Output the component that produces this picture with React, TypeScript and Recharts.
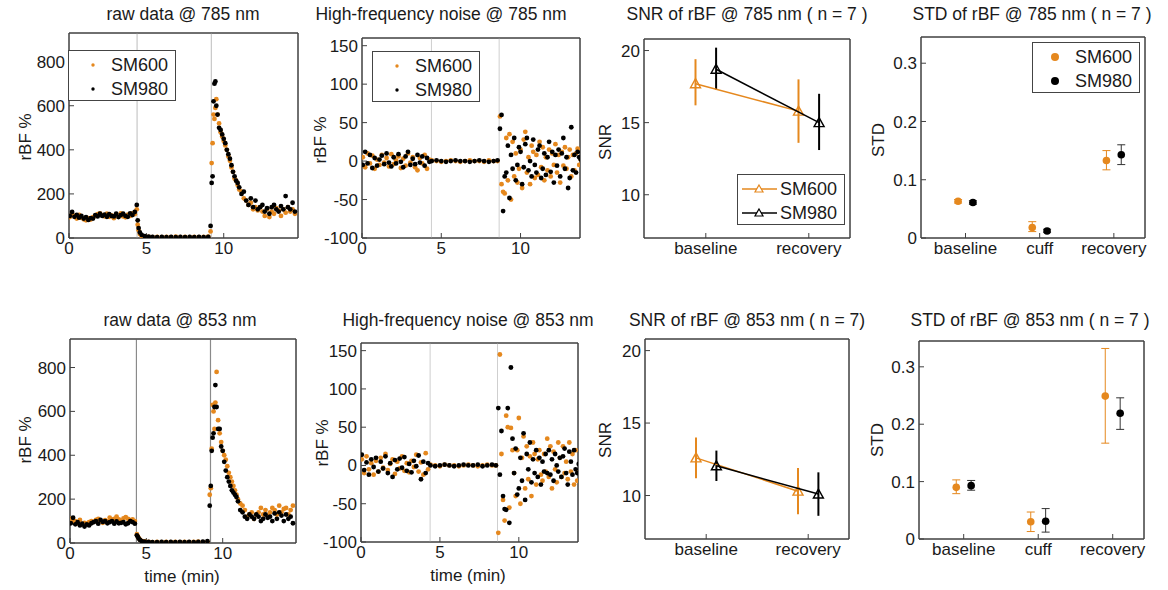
import React from 'react';
import { ScatterChart, Scatter, XAxis, YAxis, ReferenceLine, ReferenceArea, ErrorBar } from 'recharts';

const ORANGE = '#e5881e';
const BLACK = '#000000';
const AXIS = '#404040';
const TEXT = '#1a1a1a';

// ---- raw data (rBF %) ----
const rawT = [
  0.05, 0.2, 0.35, 0.5, 0.65, 0.8, 0.95, 1.1, 1.25, 1.4, 1.55, 1.7, 1.85, 2.0, 2.15, 2.3, 2.45, 2.6, 2.75, 2.9,
  3.05, 3.2, 3.35, 3.5, 3.65, 3.8, 3.95, 4.1, 4.25,
  4.38, 4.44, 4.5, 4.58, 4.7, 4.9, 5.15, 5.4, 5.7, 6.0, 6.3, 6.6, 6.9, 7.2, 7.5, 7.8, 8.1, 8.4, 8.7, 9.0,
  9.15, 9.22, 9.28, 9.34, 9.4, 9.46, 9.52, 9.6,
  9.7, 9.8, 9.9, 10.0, 10.1, 10.2, 10.3, 10.4, 10.5, 10.6, 10.7, 10.8, 10.9, 11.0,
  11.15, 11.3, 11.45, 11.6, 11.75, 11.9, 12.05, 12.2, 12.35, 12.5, 12.65, 12.8, 12.95, 13.1, 13.25, 13.4,
  13.55, 13.7, 13.85, 14.0, 14.15, 14.3, 14.45, 14.6,
];

const raw600_785 = [
  95, 110, 100, 88, 105, 92, 85, 80, 90, 84, 95, 100, 108, 112, 104, 98, 110, 96, 102, 90, 105, 100, 112, 98, 94, 106, 100, 112, 108,
  130, 60, 35, 18, 10, 6, 5, 4, 5, 4, 5, 4, 6, 4, 5, 4, 5, 4, 5, 6,
  30, 340, 430, 560, 540, 590, 630, 560,
  520, 480, 460, 440, 420, 400, 370, 350, 320, 300, 270, 260, 240, 220,
  210, 180, 170, 150, 160, 130, 140, 125, 140, 120, 100, 130, 95, 120, 110, 135, 125, 100, 130, 115, 140, 120, 130, 110,
];
const raw980_785 = [
  100, 118, 96, 105, 92, 100, 88, 95, 82, 90, 88, 104, 98, 110, 100, 106, 96, 108, 100, 98, 110, 95, 104, 110, 100, 96, 112, 104, 118,
  150, 80, 45, 25, 14, 8, 6, 5, 4, 5, 4, 5, 4, 5, 4, 5, 4, 5, 4, 5,
  55, 250, 280, 620, 700, 710, 600, 560,
  500, 490, 470, 450, 430, 400, 380, 360, 330, 300, 280, 260, 250, 230,
  200, 210, 170, 150, 180, 140, 170, 130, 140, 150, 120, 135, 110, 140, 150, 130, 120, 145, 130, 190, 140, 130, 160, 120,
];
const raw600_853 = [
  110, 95, 100, 90, 105, 85, 92, 88, 95, 100, 96, 105, 110, 100, 92, 104, 98, 115, 106, 110, 120, 108, 100, 112, 118, 110, 104, 108, 100,
  40, 30, 22, 15, 10, 7, 5, 4, 5, 4, 5, 4, 5, 4, 5, 4, 5, 6, 4, 5,
  220, 250, 430, 630, 600, 520, 640, 780,
  560, 500, 460, 420, 400, 380, 350, 320, 300, 280, 260, 240, 220, 200,
  180, 170, 150, 120, 130, 140, 110, 130, 140, 160, 130, 150, 125, 140, 160, 150, 130, 170, 140, 155, 160, 130, 150, 170,
];
const raw980_853 = [
  90, 115, 85, 95, 80, 88, 75, 85, 80, 90, 95, 100, 88, 105, 96, 100, 90, 95, 100, 88, 98, 90, 92, 95, 85, 90, 100, 95, 88,
  35, 28, 20, 14, 9, 6, 5, 4, 4, 5, 4, 5, 4, 5, 4, 5, 4, 5, 6, 8,
  170, 260, 420, 480, 500, 620, 720, 620,
  520, 520, 440, 420, 370, 330, 300, 280, 260, 240, 230, 220, 210, 190,
  150, 140, 120, 110, 130, 120, 110, 130, 120, 100, 110, 130, 115, 120, 100, 135, 110, 140, 125, 100, 130, 110, 120, 90,
];

// ---- high-frequency noise (rBF %) ----
const noiseT = [
  0.05, 0.2, 0.35, 0.5, 0.65, 0.8, 0.95, 1.1, 1.25, 1.4, 1.55, 1.7, 1.85, 2.0, 2.15, 2.3, 2.45, 2.6, 2.75, 2.9,
  3.05, 3.2, 3.35, 3.5, 3.65, 3.8, 3.95, 4.1, 4.25,
  4.4, 4.7, 5.0, 5.3, 5.6, 5.9, 6.2, 6.5, 6.8, 7.1, 7.4, 7.7, 8.0, 8.3, 8.55,
  8.7, 8.8, 8.9, 9.0, 9.1, 9.2, 9.3, 9.4, 9.5, 9.6, 9.7, 9.8, 9.9, 10.0, 10.1, 10.2, 10.3, 10.4, 10.5, 10.6,
  10.7, 10.8, 10.9, 11.0, 11.1, 11.2, 11.3, 11.4, 11.5, 11.6, 11.7, 11.8, 11.9, 12.0, 12.1, 12.2, 12.3, 12.4,
  12.5, 12.6, 12.7, 12.8, 12.9, 13.0, 13.1, 13.2, 13.3, 13.4, 13.5, 13.6, 13.7, 13.8,
];

const noise600_785 = [
  5, -8, 10, -3, 7, -10, 2, -5, 8, -2, 4, -7, 9, -4, 1, 6, -9, 3, -6, 10, -2, 5, -8, -12, 4, -3, 8, -10, 2,
  1, 0, -1, 0, 1, 0, -1, 0, 1, 0, 0, -1, 1, 0, 0,
  58, -30, -40, -42, 30, -25, 35, -50, 25, -20, 10, -28, -10, 15, -35, 28, 38, -15, 5, -30,
  20, 12, -22, 8, -18, 25, -8, 18, -25, 5, -12, 15, -20, 10, -5, 22, -15, 8, -28, 12,
  -6, 18, -10, 5, 15, -20, 8, -12, 10, 16, -5, 2,
];
const noise980_785 = [
  -5, 12, -3, 8, -9, 4, -6, 2, 7, -4, 10, -2, -7, 5, -3, 9, -1, -8, 6, 12, -5, 3, -4, 8, -2, 6, -6, 4, -1,
  0, 1, 0, -1, 0, 1, 0, 0, -1, 0, 1, 0, -1, 0, 1,
  42, 60, -65, -20, -15, 20, -48, 8, -10, 30, -25, -5, 18, 12, -30, -8, 22, 30, -12, 0,
  -20, 28, -5, -15, 15, 20, -22, -10, 10, -18, 5, 25, -14, 12, -28, 8, -6, 15, -20, 10,
  30, -10, 5, -35, -22, 44, -12, 8, -15, 12, 5, 2,
];
const noise600_853 = [
  8, -10, 12, -5, 3, -12, 6, -8, 10, -3, 15, -6, 2, 8, -11, 5, -4, 12, -7, 3, -9, 6, -2, 14, -8, 4, -12, 16, -5,
  1, 0, -1, 1, 0, 0, -1, 0, 1, 0, -1, 0, 1, 0, 0,
  -88, 145, 15, -45, -72, 65, 50, -55, 49, 20, -10, -40, 20, 62, -50, 10, 38, -30, 25, -18,
  12, -40, 30, 15, -25, 8, 20, -12, -20, 15, -8, 35, -15, 25, -30, 18, -5, -22, 30, 10,
  -15, 25, -10, 5, -18, 30, -8, 15, -25, 20, -20, -8,
];
const noise980_853 = [
  14, -6, 4, -12, 8, -2, 10, -8, 5, -4, 12, -10, 3, -15, 7, -5, 9, -3, 11, -7, 2, -9, 6, -1, 13, -18, 5, -10, 3,
  0, -1, 0, 1, 0, -1, 0, 1, 0, 0, 1, -1, 0, 1, 0,
  75, -12, 45, -40, -57, -58, 75, -75, 128, 35, -10, 22, -38, -30, 10, -20, 42, -45, 15, -5,
  30, -22, 8, -10, 20, -15, 10, -25, 5, -8, 15, -10, 20, -12, 8, -20, 15, 0, -8, 10,
  -15, 12, 22, -10, -25, 18, 5, -12, 20, -5, -10, 2,
];

// ---- SNR (n = 7) ----
const snrCats = ['baseline', 'recovery'];
const snrX600 = [0.9, 1.9];
const snrX980 = [1.1, 2.1];
const snr785_600 = [17.7, 15.8];
const snr785_600Lo = [16.2, 13.6];
const snr785_600Hi = [19.4, 18.0];
const snr785_980 = [18.7, 15.0];
const snr785_980Lo = [17.3, 13.1];
const snr785_980Hi = [20.2, 17.0];
const snr853_600 = [12.6, 10.3];
const snr853_600Lo = [11.2, 8.7];
const snr853_600Hi = [14.0, 11.9];
const snr853_980 = [12.05, 10.1];
const snr853_980Lo = [11.0, 8.6];
const snr853_980Hi = [13.1, 11.6];

// ---- STD (n = 7) ----
const stdCats = ['baseline', 'cuff', 'recovery'];
const stdX600 = [0.9, 1.9, 2.9];
const stdX980 = [1.1, 2.1, 3.1];
const std785_600 = [0.063, 0.018, 0.133];
const std785_600Lo = [0.06, 0.011, 0.117];
const std785_600Hi = [0.066, 0.028, 0.15];
const std785_980 = [0.061, 0.012, 0.143];
const std785_980Lo = [0.058, 0.01, 0.126];
const std785_980Hi = [0.064, 0.015, 0.16];
const std853_600 = [0.09, 0.03, 0.249];
const std853_600Lo = [0.079, 0.013, 0.167];
const std853_600Hi = [0.103, 0.047, 0.332];
const std853_980 = [0.093, 0.031, 0.219];
const std853_980Lo = [0.085, 0.012, 0.191];
const std853_980Hi = [0.102, 0.053, 0.246];

const pts = (xs: number[], ys: number[]) => xs.map((x, i) => ({ x, y: ys[i] }));
const errPts = (xs: number[], ys: number[], lo: number[], hi: number[]) =>
  xs.map((x, i) => ({ x, y: ys[i], err: [ys[i] - lo[i], hi[i] - ys[i]] }));

const PAD_L = 60;
const PAD_T = 10;
const PAD_R = 10;
const PAD_B = 40;
const tickStyle = { fontSize: 17, fill: TEXT };

type Box = { l: number; t: number; r: number; b: number };

// bottom/left axes with labels, top/right mirrors with inward ticks only, plus the box outline
const frame = (xDomain: number[], xTicks: number[], yDomain: number[], yTicks: number[], xFmt?: (v: number) => string) => [
  <XAxis key="xb" type="number" dataKey="x" domain={xDomain} ticks={xTicks} interval={0} allowDataOverflow
    height={PAD_B} stroke={AXIS} tickSize={-5} tickMargin={9} tick={tickStyle} tickFormatter={xFmt} />,
  <XAxis key="xt" xAxisId="top" orientation="top" type="number" dataKey="x" domain={xDomain} ticks={xTicks} interval={0}
    allowDataOverflow height={1} stroke={AXIS} tickSize={-5} tick={false} />,
  <YAxis key="yl" type="number" dataKey="y" domain={yDomain} ticks={yTicks} interval={0} allowDataOverflow
    width={PAD_L} stroke={AXIS} tickSize={-5} tickMargin={9} tick={tickStyle} />,
  <YAxis key="yr" yAxisId="right" orientation="right" type="number" dataKey="y" domain={yDomain} ticks={yTicks} interval={0}
    allowDataOverflow width={1} stroke={AXIS} tickSize={-5} tick={false} />,
  <Scatter key="mirror" xAxisId="top" yAxisId="right" data={[]} isAnimationActive={false} />,
  <ReferenceArea key="box" x1={xDomain[0]} x2={xDomain[1]} y1={yDomain[0]} y2={yDomain[1]}
    fill="none" fillOpacity={0} stroke={AXIS} strokeWidth={1} ifOverflow="visible" />,
];

const Panel = ({ box, children }: { box: Box; children: React.ReactNode }) => (
  <div style={{ position: 'absolute', left: box.l - PAD_L, top: box.t - PAD_T - 1 }}>
    <ScatterChart
      width={box.r - box.l + PAD_L + PAD_R + 1}
      height={box.b - box.t + PAD_T + PAD_B + 1}
      margin={{ top: PAD_T, right: PAD_R, bottom: 0, left: 0 }}
    >
      {children}
    </ScatterChart>
  </div>
);

const Txt = ({ x, y, text, size = 17, rotate = false }: { x: number; y: number; text: string; size?: number; rotate?: boolean }) => (
  <div
    style={{
      position: 'absolute', left: x, top: y, fontSize: size, color: TEXT, whiteSpace: 'nowrap', lineHeight: 1,
      transform: `translate(-50%, -50%)${rotate ? ' rotate(-90deg)' : ''}`,
    }}
  >
    {text}
  </div>
);

const dot = (color: string, r: number) => (p: any) => <circle cx={p.cx} cy={p.cy} r={r} fill={color} />;
const tri = (color: string) => (p: any) => (
  <path d={`M${p.cx},${p.cy - 5} L${p.cx + 5},${p.cy + 4} L${p.cx - 5},${p.cy + 4} Z`} fill="none" stroke={color} strokeWidth={1.4} />
);

const LegendBox = ({ left, top, kind }: { left: number; top: number; kind: 'dot' | 'circle' | 'tri' }) => {
  const rows = [{ name: 'SM600', color: ORANGE }, { name: 'SM980', color: BLACK }];
  const w = 108;
  return (
    <div style={{ position: 'absolute', left, top, width: w, height: 51, border: '1px solid #444', background: '#fff', boxSizing: 'border-box' }}>
      {rows.map((r, i) => (
        <div key={r.name} style={{ position: 'absolute', left: 0, top: 2 + i * 24, height: 24, width: w, display: 'flex', alignItems: 'center' }}>
          <svg width={42} height={24} style={{ flex: 'none' }}>
            {kind === 'dot' && <circle cx={24} cy={12} r={1.7} fill={r.color} />}
            {kind === 'circle' && <circle cx={22} cy={12} r={4} fill={r.color} />}
            {kind === 'tri' && (
              <g>
                <line x1={4} x2={39} y1={12} y2={12} stroke={r.color} strokeWidth={1.5} />
                <path d="M21,8 L25,15 L17,15 Z" fill="#fff" stroke={r.color} strokeWidth={1.2} />
              </g>
            )}
          </svg>
          <span style={{ fontSize: 18, color: TEXT }}>{r.name}</span>
        </div>
      ))}
    </div>
  );
};

const rawDomain = [0, 14.8];
const rawY = [0, 930];
const rawYTicks = [0, 200, 400, 600, 800];
const noiseDomain = [0, 13.75];
const noiseY = [-100, 160];
const noiseYTicks = [-100, -50, 0, 50, 100, 150];
const timeTicks = [0, 5, 10];
const snrY = [7, 20.8];
const snrYTicks = [10, 15, 20];
const stdY = [0, 0.345];
const stdYTicks = [0, 0.1, 0.2, 0.3];
const snrFmt = (v: number) => snrCats[v - 1] ?? '';
const stdFmt = (v: number) => stdCats[v - 1] ?? '';

const P1: Box = { l: 69, t: 33, r: 298, b: 238 };
const P2: Box = { l: 362, t: 38, r: 580, b: 238 };
const P3: Box = { l: 644, t: 39, r: 850, b: 238 };
const P4: Box = { l: 921, t: 37, r: 1145, b: 238 };
const P5: Box = { l: 70, t: 339, r: 296, b: 543 };
const P6: Box = { l: 361, t: 343, r: 578, b: 542 };
const P7: Box = { l: 645, t: 339, r: 849, b: 539 };
const P8: Box = { l: 919, t: 341, r: 1144, b: 539 };

const rawPanel = (box: Box, a: number[], b: number[], lines: number[], lineColor: string) => (
  <Panel box={box}>
    {frame(rawDomain, timeTicks, rawY, rawYTicks)}
    {lines.map((x) => <ReferenceLine key={x} x={x} stroke={lineColor} strokeWidth={1.2} />)}
    <Scatter data={pts(rawT, a)} shape={dot(ORANGE, 2.4)} isAnimationActive={false} />
    <Scatter data={pts(rawT, b)} shape={dot(BLACK, 2.4)} isAnimationActive={false} />
  </Panel>
);

const noisePanel = (box: Box, a: number[], b: number[]) => (
  <Panel box={box}>
    {frame(noiseDomain, timeTicks, noiseY, noiseYTicks)}
    <ReferenceLine x={4.38} stroke="#cfcfcf" strokeWidth={1} />
    <ReferenceLine x={8.65} stroke="#cfcfcf" strokeWidth={1} />
    <Scatter data={pts(noiseT, a)} shape={dot(ORANGE, 2.4)} isAnimationActive={false} />
    <Scatter data={pts(noiseT, b)} shape={dot(BLACK, 2.4)} isAnimationActive={false} />
  </Panel>
);

const snrPanel = (box: Box, a: number[], aLo: number[], aHi: number[], b: number[], bLo: number[], bHi: number[]) => (
  <Panel box={box}>
    {frame([0.4, 2.4], [1, 2], snrY, snrYTicks, snrFmt)}
    <Scatter data={errPts(snrX600, a, aLo, aHi)} shape={tri(ORANGE)} line={{ stroke: ORANGE, strokeWidth: 1.5 }} isAnimationActive={false}>
      <ErrorBar dataKey="err" direction="y" width={0} stroke={ORANGE} strokeWidth={2} isAnimationActive={false} />
    </Scatter>
    <Scatter data={errPts(snrX980, b, bLo, bHi)} shape={tri(BLACK)} line={{ stroke: BLACK, strokeWidth: 1.5 }} isAnimationActive={false}>
      <ErrorBar dataKey="err" direction="y" width={0} stroke={BLACK} strokeWidth={2} isAnimationActive={false} />
    </Scatter>
  </Panel>
);

const stdPanel = (box: Box, a: number[], aLo: number[], aHi: number[], b: number[], bLo: number[], bHi: number[]) => (
  <Panel box={box}>
    {frame([0.4, 3.42], [1, 2, 3], stdY, stdYTicks, stdFmt)}
    <Scatter data={errPts(stdX600, a, aLo, aHi)} shape={dot(ORANGE, 3.8)} isAnimationActive={false}>
      <ErrorBar dataKey="err" direction="y" width={4} stroke={ORANGE} strokeWidth={1} isAnimationActive={false} />
    </Scatter>
    <Scatter data={errPts(stdX980, b, bLo, bHi)} shape={dot(BLACK, 3.8)} isAnimationActive={false}>
      <ErrorBar dataKey="err" direction="y" width={4} stroke="#333" strokeWidth={1} isAnimationActive={false} />
    </Scatter>
  </Panel>
);

export default function App() {
  return (
    <div
      style={{
        position: 'absolute', left: 0, top: 0, width: 1168, height: 590, background: '#fff', overflow: 'hidden',
        fontFamily: '"Liberation Sans", Arial, sans-serif',
      }}
    >
      {rawPanel(P1, raw600_785, raw980_785, [4.4, 9.2], '#c8c8c8')}
      {noisePanel(P2, noise600_785, noise980_785)}
      {snrPanel(P3, snr785_600, snr785_600Lo, snr785_600Hi, snr785_980, snr785_980Lo, snr785_980Hi)}
      {stdPanel(P4, std785_600, std785_600Lo, std785_600Hi, std785_980, std785_980Lo, std785_980Hi)}
      {rawPanel(P5, raw600_853, raw980_853, [4.35, 9.2], '#8a8a8a')}
      {noisePanel(P6, noise600_853, noise980_853)}
      {snrPanel(P7, snr853_600, snr853_600Lo, snr853_600Hi, snr853_980, snr853_980Lo, snr853_980Hi)}
      {stdPanel(P8, std853_600, std853_600Lo, std853_600Hi, std853_980, std853_980Lo, std853_980Hi)}

      <LegendBox left={68} top={50} kind="dot" />
      <LegendBox left={372} top={51} kind="dot" />
      <LegendBox left={737} top={174} kind="tri" />
      <LegendBox left={1032} top={42} kind="circle" />

      <Txt x={183} y={15} text="raw data @ 785 nm" size={17.5} />
      <Txt x={441} y={15} text="High-frequency noise @ 785 nm" size={17.5} />
      <Txt x={747} y={15} text="SNR of rBF @ 785 nm ( n = 7 )" size={17.5} />
      <Txt x={1032} y={15} text="STD of rBF @ 785 nm ( n = 7 )" size={17.5} />
      <Txt x={180} y={321} text="raw data @ 853 nm" size={17.5} />
      <Txt x={468} y={321} text="High-frequency noise @ 853 nm" size={17.5} />
      <Txt x={747} y={321} text="SNR of rBF @ 853 nm ( n = 7)" size={17.5} />
      <Txt x={1030} y={321} text="STD of rBF @ 853 nm ( n = 7 )" size={17.5} />

      <Txt x={25} y={137} text="rBF %" rotate />
      <Txt x={320} y={140} text="rBF %" rotate />
      <Txt x={605} y={142} text="SNR" rotate />
      <Txt x={878} y={140} text="STD" rotate />
      <Txt x={25} y={440} text="rBF %" rotate />
      <Txt x={322} y={443} text="rBF %" rotate />
      <Txt x={605} y={440} text="SNR" rotate />
      <Txt x={877} y={440} text="STD" rotate />
      <Txt x={182} y={576} text="time (min)" />
      <Txt x={468} y={575} text="time (min)" />
    </div>
  );
}
